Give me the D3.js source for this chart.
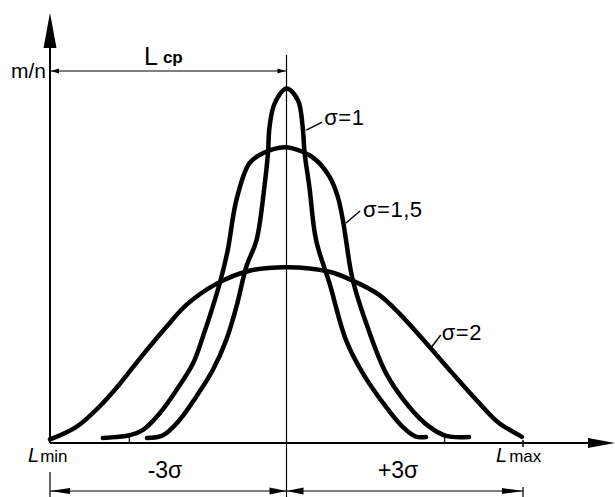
<!DOCTYPE html>
<html>
<head>
<meta charset="utf-8">
<script src="https://cdn.jsdelivr.net/npm/d3@7"></script>
<style>
  body { margin: 0; background: #fff; }
  svg { display: block; font-family: "Liberation Sans", Arial, sans-serif; }
</style>
</head>
<body>
<script>
// curve data: x = deviation from L cp, y = m/n (relative)
const sigmaLabels = ["σ=1", "σ=1,5", "σ=2"];

const xSigma1 = [-3.54, -3.13, -2.71, -2.29, -1.87, -1.53, -1.27, -1.02, -0.76, -0.56, -0.47, -0.43, -0.3, 0, 0.29, 0.41, 0.46, 0.58, 0.75, 1.09, 1.51, 1.93, 2.52, 2.94, 3.28, 3.54];
const ySigma1 = [0.014, 0.022, 0.065, 0.13, 0.205, 0.289, 0.383, 0.495, 0.57, 0.72, 0.814, 0.888, 0.954, 0.996, 0.963, 0.888, 0.814, 0.72, 0.57, 0.449, 0.289, 0.197, 0.102, 0.046, 0.018, 0.017];

const xSigma15 = [-4.66, -3.97, -3.64, -3.22, -2.79, -2.37, -2.12, -1.87, -1.65, -1.49, -1.27, -0.94, -0.6, -0.05, 0.41, 0.75, 1.09, 1.3, 1.43, 1.51, 1.67, 2.02, 2.52, 3.11, 3.62, 4.05, 4.63];
const ySigma15 = [0.014, 0.022, 0.037, 0.083, 0.149, 0.224, 0.299, 0.383, 0.467, 0.542, 0.683, 0.786, 0.814, 0.831, 0.818, 0.795, 0.748, 0.692, 0.626, 0.57, 0.463, 0.337, 0.197, 0.102, 0.046, 0.02, 0.017];

const xSigma2 = [-6, -5.32, -4.73, -4.23, -3.65, -3.05, -2.54, -1.78, -0.94, 0, 1.09, 1.68, 2.35, 2.86, 3.62, 4.2, 4.89, 5.39, 5.9, 5.97];
const ySigma2 = [0.01, 0.046, 0.104, 0.166, 0.247, 0.326, 0.388, 0.447, 0.484, 0.494, 0.481, 0.456, 0.416, 0.364, 0.271, 0.197, 0.112, 0.056, 0.022, 0.017];

// small ticks on the x axis
const tickValues = [-4, 4];

const width = 615,
  height = 497;

const xScale = d3.scaleLinear().domain([-6, 6]).range([50, 523]);
const yScale = d3.scaleLinear().domain([0, 1]).range([443, 87]);

const svg = d3
  .select("body")
  .append("svg")
  .attr("width", width)
  .attr("height", height);

const x0 = xScale(-6),
  xc = xScale(0),
  xm = xScale(6),
  y0 = yScale(0);

// filled arrow head, tip at (x, y)
function arrow(x, y, dx, dy, len, half) {
  const bx = x - dx * len,
    by = y - dy * len;
  const px = -dy * half,
    py = dx * half;
  svg
    .append("path")
    .attr("d", `M${x},${y}L${bx + px},${by + py}L${bx - px},${by - py}Z`)
    .attr("fill", "#000");
}

function line(xa, ya, xb, yb, w) {
  svg
    .append("line")
    .attr("x1", xa)
    .attr("y1", ya)
    .attr("x2", xb)
    .attr("y2", yb)
    .attr("stroke", "#000")
    .attr("stroke-width", w);
}

// axes
line(x0, y0, width - 8, y0, 2);
arrow(width, y0, 1, 0, 27, 5);
line(x0, y0, x0, 30, 2);
arrow(x0, 13, 0, -1, 35, 6.5);

const xAxis = d3
  .axisBottom(xScale)
  .tickValues(tickValues)
  .tickSizeInner(-6)
  .tickSizeOuter(0)
  .tickFormat("");
const axisG = svg.append("g").attr("transform", `translate(0,${y0})`).call(xAxis);
axisG.select(".domain").remove();
axisG.selectAll("line").attr("stroke-width", 1.2);
line(xm, y0 - 3, xm, y0 + 4, 1.5);

// centre line
line(xc, 55, xc, height, 1.2);

// L cp dimension
line(x0, 71, xc, 71, 1.2);
arrow(x0 + 1, 71, -1, 0, 8, 2.5);
arrow(xc - 1, 71, 1, 0, 8, 2.5);

// -3σ / +3σ dimension
line(x0, 491, xm, 491, 1.2);
line(x0, 472, x0, height, 1.2);
line(xm, 487, xm, height, 1.2);
arrow(x0, 491, -1, 0, 20, 3);
arrow(xc, 491, 1, 0, 17, 3.5);
arrow(xc, 491, -1, 0, 17, 3.5);
arrow(xm, 491, 1, 0, 21, 3);

// curves
const curves = [
  { x: xSigma1, y: ySigma1 },
  { x: xSigma15, y: ySigma15 },
  { x: xSigma2, y: ySigma2 },
];

const lineGen = d3
  .line()
  .x((d) => xScale(d[0]))
  .y((d) => yScale(d[1]))
  .curve(d3.curveCatmullRom.alpha(0.5));

svg
  .selectAll("path.curve")
  .data(curves)
  .enter()
  .append("path")
  .attr("class", "curve")
  .attr("d", (d) => lineGen(d.x.map((v, i) => [v, d.y[i]])))
  .attr("fill", "none")
  .attr("stroke", "#000")
  .attr("stroke-width", 4.5)
  .attr("stroke-linecap", "round")
  .attr("stroke-linejoin", "round");

// curve labels with leader lines (anchor on curve in data units)
const labelAnchors = [
  { x: 0.5, y: 0.879, ex: 16, ey: -8, tx: 18, ty: -5 },
  { x: 1.51, y: 0.618, ex: 14, ey: -12, tx: 17, ty: -6 },
  { x: 3.66, y: 0.267, ex: 10, ey: -13, tx: 11, ty: -8 },
];

labelAnchors.forEach((a, i) => {
  const ax = xScale(a.x),
    ay = yScale(a.y);
  line(ax, ay, ax + a.ex, ay + a.ey, 1.5);
  svg
    .append("text")
    .attr("x", ax + a.tx)
    .attr("y", ay + a.ty)
    .attr("font-size", 22)
    .attr("letter-spacing", 0.5)
    .text(sigmaLabels[i]);
});

// axis labels
svg
  .append("text")
  .attr("x", 46)
  .attr("y", 78)
  .attr("text-anchor", "end")
  .attr("font-size", 21)
  .text("m/n");

const lcp = svg.append("text").attr("x", 144).attr("y", 65);
lcp.append("tspan").attr("font-size", 25).text("L");
lcp
  .append("tspan")
  .attr("dx", 5)
  .attr("dy", -2)
  .attr("font-size", 17)
  .attr("font-weight", "bold")
  .text("cp");

const lmin = svg.append("text").attr("x", 28).attr("y", 462);
lmin.append("tspan").attr("font-size", 20).attr("font-style", "italic").text("L");
lmin.append("tspan").attr("dx", 1).attr("font-size", 17).text("min");

const lmax = svg.append("text").attr("x", 496).attr("y", 462);
lmax.append("tspan").attr("font-size", 20).attr("font-style", "italic").text("L");
lmax.append("tspan").attr("dx", 2).attr("font-size", 17).text("max");

svg
  .append("text")
  .attr("x", 165)
  .attr("y", 478)
  .attr("text-anchor", "middle")
  .attr("font-size", 23)
  .text("-3σ");

svg
  .append("text")
  .attr("x", 398)
  .attr("y", 478)
  .attr("text-anchor", "middle")
  .attr("font-size", 23)
  .text("+3σ");
</script>
</body>
</html>
